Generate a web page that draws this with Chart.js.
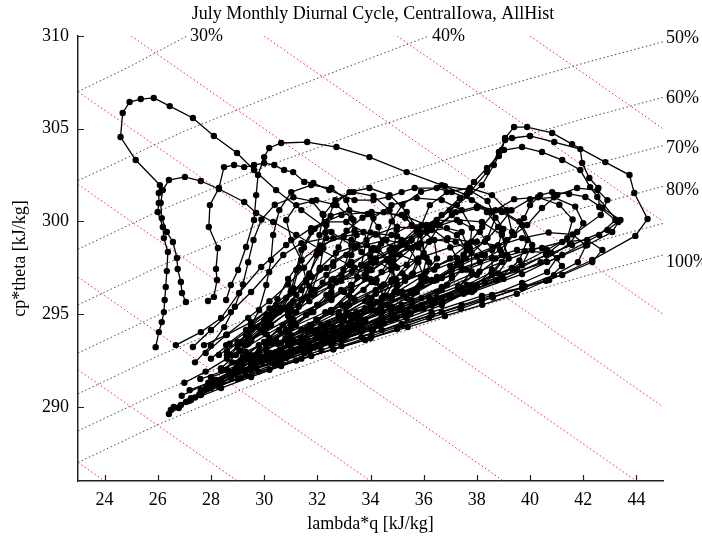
<!DOCTYPE html>
<html>
<head>
<meta charset="utf-8">
<script src="https://cdn.jsdelivr.net/npm/chart.js@4/dist/chart.umd.min.js"></script>
<style>
  html, body { margin: 0; padding: 0; background: #fff; }
  #wrap { width: 702px; height: 538px; }
</style>
</head>
<body>
<div id="wrap"><canvas id="chart"></canvas></div>
<script>
// axis ranges and tick labels
const xRange = [23, 45];
const yRange = [286, 310];
const xTicks = [24, 26, 28, 30, 32, 34, 36, 38, 40, 42, 44];
const yTicks = [290, 295, 300, 305, 310];

// red dotted lines: constant cp*theta + lambda*q (310 ... 350 kJ/kg)
const thetaELines = [
  [[23, 287], [24, 286]],
  [[23, 292], [29, 286]],
  [[23, 297], [34, 286]],
  [[23, 302], [39, 286]],
  [[23, 307], [44, 286]],
  [[25, 310], [45, 290]],
  [[30, 310], [45, 295]],
  [[35, 310], [45, 300]],
  [[40, 310], [45, 305]]
];

// black dotted relative humidity lines
const rh30 = [[23, 307.0], [25, 308.39], [27.1, 310]];
const rh40 = [[23, 302.2], [27, 304.87], [31, 307.17], [36.2, 310]];
const rh50 = [[23, 298.5], [26, 300.54], [30, 302.93], [34, 305.01], [38, 306.87], [42, 308.53], [45, 309.69]];
const rh60 = [[23, 295.5], [26, 297.54], [30, 299.93], [34, 302.01], [38, 303.87], [42, 305.53], [45, 306.69]];
const rh70 = [[23, 292.9], [26, 294.94], [30, 297.33], [34, 299.41], [38, 301.27], [42, 302.93], [45, 304.09]];
const rh80 = [[23, 290.7], [26, 292.74], [30, 295.13], [34, 297.21], [38, 299.07], [42, 300.73], [45, 301.89]];
const rh90 = [[23, 288.7], [26, 290.74], [30, 293.13], [34, 295.21], [38, 297.07], [42, 298.73], [45, 299.89]];
const rh100 = [[23, 287.0], [26, 289.04], [30, 291.43], [34, 293.51], [38, 295.37], [42, 297.03], [45, 298.19]];
const rhLines = [rh30, rh40, rh50, rh60, rh70, rh80, rh90, rh100];
const rhLabels = ["30%", "40%", "50%", "60%", "70%", "80%", "", "100%"];
const rhLabelAt = [[27.1, 310], [36.2, 310], [45, 309.9], [45, 306.65], [45, 303.95], [45, 301.7], [45, 299.9], [45, 297.8]];

// diurnal cycles [lambda*q, cp*theta]
const cycT1 = [[25.92,293.22],[26.04,294.03],[26.15,294.57],[26.23,295.11],[26.26,295.76],[26.30,296.46],[26.34,297.32],[26.38,298.35],[26.23,299.10],[26.19,299.70],[26.00,300.51],[26.04,300.99],[26.04,301.53],[26.08,301.96],[25.17,303.31],[24.60,304.55],[24.68,305.85],[24.94,306.44],[25.36,306.60],[25.85,306.66],[26.45,306.22],[27.32,305.58],[28.11,304.61],[28.98,303.69],[29.62,302.77],[30.45,301.69],[31.40,300.61],[32.53,299.43],[33.66,298.35],[34.79,297.38]];
const cycT2 = [[27.06,295.65],[26.91,296.14],[26.87,296.73],[26.75,297.43],[26.72,298.03],[26.57,298.89],[26.34,299.43],[26.15,300.18],[26.11,300.99],[26.19,301.69],[26.42,302.23],[27.02,302.40],[27.62,302.18],[28.30,301.75],[29.25,301.05],[29.70,300.45],[30.34,299.97],[31.21,299.27],[32.15,298.46],[33.21,297.65],[34.23,296.84]];
const cycT3 = [[27.89,295.71],[28.11,295.93],[28.23,296.84],[28.19,297.43],[28.26,298.57],[27.92,299.70],[27.96,300.88],[28.30,301.80],[28.49,302.93],[28.87,303.04],[29.25,302.93],[29.62,303.04],[30.00,303.15],[30.38,303.04],[30.75,302.77],[31.09,302.66],[31.51,302.13],[31.85,302.07],[32.45,301.69],[33.40,301.15],[34.11,301.15],[34.68,301.32],[35.17,301.58],[35.66,301.80],[36.49,301.80],[37.06,301.58],[37.81,301.15],[38.57,300.51],[39.00,299.60],[38.80,298.70],[38.00,298.10],[37.00,297.60]];
const cycT4 = [[28.57,295.76],[28.75,296.57],[29.02,297.38],[29.32,298.62],[29.62,300.08],[29.70,301.42],[29.77,302.50],[30.00,303.47],[30.19,303.96],[30.64,304.23],[31.62,304.28],[32.72,304.01],[33.96,303.47],[35.36,302.66],[36.68,301.96],[37.62,301.42],[38.38,300.51],[38.94,299.43],[39.13,298.19],[38.57,297.11],[37.43,296.30],[35.92,295.49],[34.42,294.79]];
const cycR1 = [[32.53,293.33],[34.42,294.14],[36.30,295.11],[38.19,295.98],[39.70,296.41],[40.72,296.84],[42.34,297.92],[43.96,299.22],[44.42,300.13],[43.92,301.53],[43.74,302.50],[42.83,303.20],[41.58,304.17],[40.83,304.77],[39.89,305.09],[39.40,305.09],[39.06,304.50],[38.94,303.85],[38.64,303.04],[38.19,301.96],[37.25,300.88],[36.30,299.81],[35.17,298.73],[34.04,297.81]];
const cycR2 = [[31.40,293.06],[33.66,294.25],[35.92,295.33],[37.81,296.19],[39.70,297.16],[41.21,298.19],[42.60,299.27],[43.21,300.08],[42.60,300.78],[42.57,301.80],[42.23,302.34],[41.96,303.15],[41.89,303.90],[40.91,304.28],[40.00,304.61],[39.32,304.50],[39.06,304.39],[38.83,303.74],[38.38,302.66],[37.74,301.58],[36.98,300.61],[36.11,299.64],[34.98,298.57],[33.85,297.59],[32.72,296.73]];
const cycR3 = [[32.15,293.60],[34.42,294.79],[36.68,295.87],[38.94,297.06],[40.64,297.81],[42.15,298.73],[43.09,299.43],[43.32,299.97],[42.53,301.32],[42.26,301.85],[41.89,302.77],[41.21,303.31],[40.45,303.74],[39.70,304.01],[39.02,303.85],[38.83,303.53],[38.38,302.88],[37.89,302.13],[37.36,301.26],[36.68,300.35],[35.74,299.43],[34.72,298.46],[33.66,297.65]];
const cycR4 = [[32.91,293.87],[35.17,295.22],[37.43,296.41],[39.70,297.65],[41.58,298.73],[42.91,299.54],[43.40,300.08],[42.72,300.72],[42.08,301.32],[41.47,301.48],[40.83,301.58],[40.38,301.42],[40.00,300.88],[39.77,300.18],[39.40,299.27],[38.87,298.46],[38.11,297.81],[37.06,297.11],[35.74,296.30],[34.42,295.49]];
const cycC0 = [[26.42,289.61],[26.79,289.94],[27.17,290.31],[27.55,290.64],[27.92,291.01],[28.38,291.45],[28.94,291.88],[29.51,292.42],[30.26,292.90],[31.10,293.50],[32.00,294.10],[33.00,294.80],[34.00,295.50],[35.00,296.20],[35.90,297.00],[36.50,298.00],[36.40,299.00],[35.80,299.60],[35.00,299.70],[34.20,299.30],[33.40,298.60],[32.60,297.80],[31.80,297.00],[31.00,296.20],[30.20,295.30],[29.50,294.40]];
const cycC1 = [[26.49,289.83],[27.06,290.26],[27.62,290.74],[28.19,291.29],[28.75,291.72],[29.51,292.25],[30.45,292.96],[31.40,293.60],[32.34,294.25],[33.28,294.95],[34.23,295.65],[34.98,296.30],[35.55,297.11],[35.74,297.92],[35.36,298.73],[34.60,299.00],[33.85,298.73],[33.09,298.19],[32.34,297.49],[31.58,296.73],[30.83,295.87],[30.08,294.95],[29.32,294.14],[28.57,293.33]];
const cycC2 = [[26.87,290.10],[27.62,290.64],[28.38,291.34],[29.32,291.98],[30.26,292.52],[31.40,293.06],[32.53,293.71],[33.66,294.41],[34.79,295.11],[35.92,295.87],[36.87,296.57],[37.43,297.38],[37.62,298.46],[37.25,299.27],[36.49,299.81],[35.55,299.81],[34.79,299.27],[34.04,298.46],[33.28,297.65],[32.53,296.84],[31.77,296.03],[31.02,295.22],[30.26,294.41],[29.51,293.60]];
const cycC3 = [[27.25,290.47],[28.00,291.01],[28.75,291.55],[29.70,292.09],[30.83,292.63],[31.96,293.33],[33.09,293.87],[34.23,294.57],[35.36,295.22],[36.49,295.87],[37.62,296.57],[38.57,297.27],[39.13,298.19],[38.94,299.27],[38.19,299.97],[37.25,300.08],[36.30,299.64],[35.55,299.00],[34.79,298.19],[34.04,297.38],[33.28,296.57],[32.53,295.76],[31.77,295.11],[31.02,294.41]];
const cycC4 = [[27.62,290.91],[28.19,291.45],[28.94,292.09],[29.70,292.79],[30.45,293.60],[31.02,294.68],[31.40,295.76],[31.58,296.84],[31.40,297.92],[31.02,299.00],[30.83,300.08],[31.21,300.88],[31.96,301.15],[32.72,300.88],[33.28,300.18],[33.47,299.27],[33.28,298.19],[32.91,297.11],[32.34,296.03],[31.58,294.95],[30.83,294.14],[30.08,293.33],[29.32,292.63]];
const cycC5 = [[28.38,291.45],[29.13,291.98],[30.08,292.52],[31.21,293.06],[32.34,293.60],[33.66,294.14],[34.98,294.79],[36.30,295.49],[37.62,296.19],[38.75,296.84],[39.70,297.65],[40.08,298.73],[39.70,299.81],[38.94,300.51],[38.00,300.72],[37.06,300.35],[36.30,299.54],[35.55,298.57],[34.79,297.65],[34.04,296.73],[33.28,295.87],[32.53,295.11],[31.77,294.41],[30.83,293.60]];
const cycC6 = [[29.51,291.98],[31.02,292.79],[32.53,293.50],[34.04,294.14],[35.36,294.79],[36.68,295.49],[37.81,296.30],[38.57,297.38],[38.57,298.46],[38.11,299.43],[37.36,299.97],[36.49,300.08],[35.74,299.64],[35.17,298.89],[34.87,297.92],[34.79,296.84],[34.42,295.87],[33.74,295.11],[32.91,294.41],[31.96,293.71],[31.02,293.06],[30.08,292.52]];
const cycC7 = [[28.00,291.18],[28.75,291.88],[29.51,292.63],[30.26,293.44],[31.02,294.25],[31.77,295.11],[32.53,295.87],[33.28,296.57],[33.85,297.38],[34.04,298.46],[33.74,299.43],[33.09,299.97],[32.34,299.97],[31.77,299.43],[31.40,298.46],[31.21,297.38],[31.02,296.30],[30.64,295.33],[30.08,294.41],[29.51,293.60],[28.94,292.79],[28.38,292.09]];
const cycC8 = [[28.75,291.72],[29.89,292.42],[31.02,293.06],[32.15,293.71],[33.28,294.41],[34.42,295.11],[35.36,295.87],[35.92,296.84],[36.11,298.03],[35.85,299.27],[35.36,300.51],[34.72,301.42],[33.96,301.80],[33.21,301.58],[32.60,300.88],[32.34,299.81],[32.23,298.57],[32.08,297.38],[31.77,296.19],[31.21,295.11],[30.57,294.14],[29.81,293.33],[29.13,292.52]];
const cycC9 = [[27.25,290.37],[28.38,291.01],[29.51,291.61],[30.64,292.20],[31.77,292.74],[32.91,293.28],[34.04,293.82],[35.17,294.41],[36.30,294.95],[37.43,295.49],[38.57,296.03],[39.70,296.68],[40.64,297.27],[41.02,298.03],[40.45,298.57],[39.51,298.46],[38.57,298.03],[37.43,297.49],[36.30,296.84],[35.17,296.19],[34.04,295.49],[32.91,294.79],[31.77,294.14],[30.64,293.44],[29.51,292.79],[28.38,291.98]];
const cycC10 = [[29.13,292.25],[30.08,293.06],[31.02,293.87],[31.96,294.68],[32.91,295.49],[33.74,296.30],[34.42,297.27],[34.87,298.35],[34.98,299.54],[34.72,300.61],[34.11,301.37],[33.36,301.58],[32.68,301.15],[32.23,300.35],[32.08,299.27],[31.96,298.19],[31.70,297.11],[31.21,296.03],[30.57,295.11],[29.89,294.14],[29.32,293.33]];
const cycC11 = [[30.64,293.06],[32.15,293.87],[33.66,294.68],[35.17,295.49],[36.68,296.30],[38.00,297.11],[38.94,298.19],[39.32,299.43],[39.13,300.61],[38.57,301.42],[37.74,301.80],[36.87,301.58],[36.23,300.88],[35.92,299.81],[35.74,298.73],[35.36,297.65],[34.79,296.73],[34.04,295.87],[33.09,295.11],[32.15,294.41],[31.40,293.71]];
const cycC12 = [[27.62,290.80],[29.13,291.55],[30.64,292.31],[32.15,293.06],[33.66,293.76],[35.17,294.47],[36.68,295.11],[38.19,295.76],[39.70,296.41],[41.21,297.11],[42.34,297.81],[42.72,298.46],[42.15,299.00],[41.21,298.89],[40.08,298.46],[38.94,297.81],[37.81,297.16],[36.68,296.46],[35.55,295.76],[34.42,295.11],[33.28,294.41],[32.15,293.76],[31.02,293.06],[29.89,292.42]];
const cycC13 = [[26.68,293.33],[27.62,294.03],[28.38,294.79],[29.06,296.14],[29.89,297.54],[30.83,298.73],[31.77,299.64],[32.91,300.35],[34.04,300.51],[35.17,300.35],[36.11,299.81],[36.87,299.00],[37.25,298.03],[37.06,296.95],[36.49,296.19],[35.55,295.49],[34.42,294.79],[33.28,294.14],[32.15,293.50],[31.02,292.96],[29.89,292.42],[28.94,291.88],[28.00,291.18]];
const cycC14 = [[27.32,293.23],[28.00,294.14],[28.75,295.11],[29.51,296.19],[30.19,297.27],[30.72,298.19],[31.40,298.83],[32.34,299.10],[33.28,299.00],[34.11,298.57],[34.72,297.81],[34.98,296.84],[34.79,295.87],[34.23,295.11],[33.47,294.41],[32.53,293.76],[31.40,293.06],[30.26,292.52],[29.32,291.98],[28.38,291.29]];
const cycC15 = [[27.74,293.33],[28.57,293.87],[29.51,294.57],[30.45,295.49],[31.40,296.30],[32.34,297.11],[33.28,297.81],[34.23,298.46],[35.17,299.00],[36.11,299.43],[36.87,299.64],[37.43,299.43],[37.62,298.73],[37.36,297.81],[36.68,296.95],[35.74,296.19],[34.60,295.49],[33.47,294.79],[32.34,294.14],[31.21,293.50],[30.08,292.79],[29.13,292.20]];
const cycC16 = [[29.89,292.52],[31.40,293.33],[33.09,294.14],[34.79,294.95],[36.30,295.76],[37.81,296.57],[39.32,297.49],[40.64,298.46],[41.77,299.43],[42.66,300.35],[42.91,301.15],[42.53,301.69],[41.77,301.80],[41.02,301.42],[40.45,300.72],[39.89,299.81],[39.13,299.00],[38.19,298.19],[37.06,297.38],[35.92,296.57],[34.79,295.87],[33.47,295.11],[32.15,294.36],[31.02,293.60]];
const cycC17 = [[31.40,294.14],[32.53,295.22],[33.28,296.30],[33.66,297.65],[33.85,299.00],[34.11,300.18],[34.79,300.88],[35.74,301.26],[36.68,301.15],[37.43,300.61],[37.81,299.64],[37.74,298.57],[37.25,297.65],[36.49,296.84],[35.55,296.14],[34.42,295.38],[33.28,294.68],[32.15,293.98]];
const cycC18 = [[28.75,292.79],[29.32,293.87],[29.81,295.22],[30.08,296.57],[30.26,297.92],[30.34,299.27],[30.57,300.61],[31.02,301.58],[31.77,301.96],[32.53,301.80],[33.09,301.15],[33.36,300.08],[33.28,298.73],[32.98,297.38],[32.53,296.19],[31.85,295.11],[31.02,294.25],[30.08,293.50],[29.32,292.96]];
const cycD1 = [[26.6,290.0],[27.4,290.5],[28.3,291.1],[29.3,291.7],[30.4,292.3],[31.5,292.9],[32.6,293.5],[33.7,294.1],[34.8,294.7],[35.9,295.3],[37.0,295.9],[38.0,296.5],[38.8,297.2],[39.2,298.0],[38.8,298.7],[38.0,298.9],[37.0,298.6],[36.0,298.1],[35.0,297.5],[34.0,296.9],[33.0,296.2],[32.0,295.5],[31.0,294.8],[30.0,294.0],[29.0,293.2]];
const cycD2 = [[28.0,291.6],[29.0,292.1],[30.0,292.7],[31.0,293.3],[32.0,294.0],[33.0,294.7],[34.0,295.4],[34.9,296.2],[35.6,297.2],[36.0,298.3],[35.9,299.4],[35.3,300.2],[34.5,300.5],[33.7,300.2],[33.1,299.5],[32.8,298.6],[32.6,297.6],[32.2,296.7],[31.6,295.9],[30.9,295.1],[30.1,294.3],[29.3,293.5]];
const cycD3 = [[29.5,292.0],[30.7,292.6],[31.9,293.2],[33.1,293.8],[34.3,294.4],[35.5,295.0],[36.7,295.6],[37.9,296.3],[38.9,297.0],[39.6,297.9],[39.9,299.0],[39.6,300.0],[38.9,300.6],[38.0,300.8],[37.2,300.5],[36.6,299.8],[36.2,298.9],[35.8,298.0],[35.2,297.2],[34.4,296.5],[33.4,295.8],[32.3,295.1],[31.2,294.4],[30.2,293.7]];
const cycD4 = [[27.0,291.3],[27.8,291.9],[28.6,292.6],[29.4,293.4],[30.1,294.3],[30.7,295.3],[31.1,296.4],[31.3,297.5],[31.5,298.6],[31.9,299.6],[32.5,300.3],[33.2,300.6],[33.9,300.4],[34.3,299.7],[34.4,298.8],[34.2,297.8],[33.8,296.9],[33.2,296.0],[32.5,295.2],[31.7,294.4],[30.8,293.7],[29.8,293.0],[28.8,292.4]];
const cycD5 = [[30.5,292.5],[31.8,293.2],[33.1,293.9],[34.4,294.6],[35.7,295.3],[37.0,296.0],[38.3,296.7],[39.5,297.4],[40.6,298.2],[41.4,299.1],[41.6,300.1],[41.1,300.9],[40.3,301.3],[39.4,301.2],[38.7,300.6],[38.2,299.7],[37.7,298.8],[37.0,298.0],[36.1,297.3],[35.0,296.6],[33.9,295.9],[32.8,295.1],[31.7,294.3]];
const cycD6 = [[28.6,292.8],[29.4,293.7],[30.0,294.7],[30.5,295.8],[30.9,296.9],[31.4,297.9],[32.1,298.7],[33.0,299.2],[34.0,299.4],[35.0,299.2],[35.8,298.6],[36.2,297.8],[36.1,296.9],[35.6,296.1],[34.8,295.4],[33.8,294.7],[32.7,294.0],[31.6,293.4],[30.5,292.9],[29.5,292.4]];
const cycD7 = [[27.8,291.0],[29.0,291.5],[30.2,292.0],[31.4,292.6],[32.6,293.1],[33.8,293.6],[35.0,294.2],[36.2,294.8],[37.4,295.3],[38.6,295.9],[39.8,296.5],[40.9,297.1],[41.8,297.8],[42.1,298.7],[41.6,299.3],[40.7,299.4],[39.7,299.1],[38.6,298.6],[37.5,298.0],[36.4,297.4],[35.3,296.8],[34.2,296.1],[33.1,295.4],[32.0,294.7],[30.9,294.0],[29.8,293.3]];
const cycD8 = [[31.0,293.8],[32.4,294.5],[33.8,295.3],[35.2,296.1],[36.5,297.0],[37.6,298.0],[38.4,299.1],[38.7,300.2],[38.4,301.1],[37.7,301.7],[36.8,301.9],[35.9,301.6],[35.2,300.9],[34.8,300.0],[34.5,299.0],[34.0,298.1],[33.3,297.3],[32.5,296.5],[31.7,295.7],[30.9,294.9]];
const cycD9 = [[27.4,292.4],[28.0,293.3],[28.5,294.3],[28.9,295.4],[29.2,296.6],[29.4,297.8],[29.6,299.0],[29.9,300.1],[30.4,300.9],[31.1,301.3],[31.8,301.1],[32.2,300.4],[32.3,299.4],[32.1,298.3],[31.7,297.2],[31.1,296.2],[30.4,295.2],[29.7,294.3],[29.0,293.5],[28.3,292.8]];
const cycD10 = [[26.9,290.6],[27.9,291.3],[28.9,292.0],[29.9,292.7],[30.9,293.4],[31.9,294.1],[32.9,294.9],[33.8,295.7],[34.5,296.6],[34.9,297.6],[34.8,298.6],[34.2,299.3],[33.4,299.5],[32.6,299.1],[32.0,298.4],[31.5,297.5],[30.9,296.6],[30.2,295.7],[29.4,294.8],[28.6,293.9],[27.8,292.9]];
const cycD11 = [[33.0,293.7],[34.5,294.5],[36.0,295.3],[37.5,296.1],[39.0,296.9],[40.4,297.8],[41.5,298.8],[42.0,299.9],[41.7,300.8],[40.9,301.3],[40.0,301.2],[39.3,300.6],[38.8,299.7],[38.3,298.9],[37.5,298.2],[36.5,297.6],[35.3,297.0],[34.2,296.3],[33.2,295.5]];
const cycD12 = [[28.2,291.4],[29.3,291.9],[30.5,292.4],[31.7,293.0],[32.9,293.6],[34.1,294.2],[35.3,294.9],[36.4,295.6],[37.3,296.4],[37.8,297.3],[37.8,298.3],[37.2,298.9],[36.3,299.0],[35.4,298.6],[34.6,297.9],[33.8,297.1],[32.9,296.3],[32.0,295.5],[31.1,294.7],[30.1,293.9],[29.1,293.0]];
const cycE1 = [[27.2,290.9],[28.1,291.4],[29.0,291.9],[29.9,292.4],[30.8,292.9],[31.7,293.4],[32.6,293.9],[33.5,294.5],[34.2,295.2],[34.5,296.0],[34.2,296.7],[33.5,297.0],[32.7,296.8],[31.9,296.3],[31.1,295.7],[30.3,295.0],[29.5,294.2],[28.7,293.4],[28.0,292.6]];
const cycE2 = [[27.6,291.5],[28.6,292.0],[29.6,292.6],[30.6,293.1],[31.6,293.7],[32.6,294.3],[33.6,294.9],[34.6,295.5],[35.5,296.2],[36.0,297.0],[35.8,297.8],[35.1,298.2],[34.2,298.0],[33.4,297.5],[32.6,296.9],[31.8,296.2],[31.0,295.5],[30.2,294.7],[29.4,293.9],[28.6,293.0]];
const cycE3 = [[29.0,292.3],[30.2,292.9],[31.4,293.5],[32.6,294.1],[33.8,294.7],[35.0,295.3],[36.2,295.9],[37.3,296.5],[38.1,297.3],[38.3,298.2],[37.8,298.9],[36.9,299.1],[35.9,298.8],[34.9,298.2],[33.9,297.5],[32.9,296.8],[31.9,296.1],[30.9,295.3],[30.0,294.4],[29.2,293.4]];
const cycE4 = [[28.4,292.0],[29.2,292.7],[30.0,293.5],[30.7,294.4],[31.3,295.4],[31.7,296.5],[32.1,297.5],[32.7,298.3],[33.5,298.7],[34.3,298.5],[34.8,297.8],[34.9,296.9],[34.6,296.0],[34.0,295.2],[33.2,294.5],[32.3,293.9],[31.4,293.3],[30.5,292.8],[29.6,292.4]];
const cycE5 = [[29.8,291.9],[31.2,292.5],[32.6,293.1],[34.0,293.7],[35.4,294.3],[36.8,294.9],[38.2,295.5],[39.5,296.1],[40.6,296.8],[41.2,297.6],[40.8,298.3],[39.8,298.4],[38.7,298.0],[37.6,297.4],[36.4,296.8],[35.2,296.2],[34.0,295.6],[32.8,294.9],[31.6,294.2],[30.5,293.4]];

const cycles = [cycT1, cycT2, cycT3, cycT4, cycR1, cycR2, cycR3, cycR4, cycC0, cycC1, cycC2, cycC3, cycC4,
  cycC5, cycC6, cycC7, cycC8, cycC9, cycC10, cycC11, cycC12, cycC13, cycC14, cycC15, cycC16, cycC17, cycC18,
  cycD1, cycD2, cycD3, cycD4, cycD5, cycD6, cycD7, cycD8, cycD9, cycD10, cycD11, cycD12,
  cycE1, cycE2, cycE3, cycE4, cycE5];

const FONT = "'Liberation Serif', 'DejaVu Serif', serif";
const toXY = arr => arr.map(p => ({ x: p[0], y: p[1] }));

const datasets = [];
cycles.forEach(c => {
  datasets.push({
    data: toXY(c),
    showLine: true,
    borderColor: "#000",
    borderWidth: 1.3,
    pointRadius: 3.2,
    pointBackgroundColor: "#000",
    pointBorderWidth: 0,
    order: 0
  });
});
thetaELines.forEach(l => {
  datasets.push({
    data: toXY(l),
    showLine: true,
    borderColor: "rgba(255, 0, 0, 0.85)",
    borderWidth: 1,
    borderDash: [1.5, 2.5],
    pointRadius: 0,
    order: 10
  });
});
rhLines.forEach(l => {
  datasets.push({
    data: toXY(l),
    showLine: true,
    borderColor: "rgba(40, 40, 40, 0.85)",
    borderWidth: 1,
    borderDash: [1.5, 2.5],
    pointRadius: 0,
    order: 10
  });
});

// text, inward ticks and RH labels
const decor = {
  id: "decor",
  afterDraw(chart) {
    const { ctx, scales: { x, y } } = chart;
    ctx.save();
    ctx.strokeStyle = "#222";
    ctx.lineWidth = 1.2;
    ctx.beginPath();
    xTicks.forEach(v => {
      const px = Math.round(x.getPixelForValue(v)) + 0.5;
      ctx.moveTo(px, y.bottom);
      ctx.lineTo(px, y.bottom - 6);
    });
    yTicks.forEach(v => {
      const py = Math.round(y.getPixelForValue(v)) + 0.5;
      ctx.moveTo(x.left, py);
      ctx.lineTo(x.left + 6, py);
    });
    ctx.stroke();

    ctx.fillStyle = "#000";
    ctx.font = "18px " + FONT;
    ctx.textBaseline = "middle";
    ctx.textAlign = "center";
    xTicks.forEach(v => ctx.fillText(String(v), x.getPixelForValue(v), 500));
    ctx.textAlign = "right";
    yTicks.forEach(v => ctx.fillText(String(v), 69, y.getPixelForValue(v)));

    ctx.textAlign = "left";
    rhLabels.forEach((t, i) => {
      if (!t) return;
      const p = rhLabelAt[i];
      ctx.fillText(t, x.getPixelForValue(p[0]) + 3, y.getPixelForValue(p[1]));
    });

    ctx.textAlign = "center";
    ctx.fillText("July Monthly Diurnal Cycle, CentralIowa, AllHist", 373, 14);
    ctx.fillText("lambda*q [kJ/kg]", (x.left + x.right) / 2, 524);
    ctx.translate(20, (y.top + y.bottom) / 2);
    ctx.rotate(-Math.PI / 2);
    ctx.fillText("cp*theta [kJ/kg]", 0, 0);
    ctx.restore();
  }
};

new Chart(document.getElementById("chart"), {
  type: "scatter",
  data: { datasets },
  options: {
    animation: false,
    responsive: true,
    maintainAspectRatio: false,
    events: [],
    layout: { padding: { top: 36, right: 39, bottom: 0, left: 0 } },
    plugins: { legend: { display: false }, tooltip: { enabled: false } },
    scales: {
      x: {
        type: "linear",
        min: xRange[0],
        max: xRange[1],
        grid: { display: false },
        border: { display: true, color: "#222", width: 1.5 },
        ticks: { display: false },
        afterFit: s => { s.height = 57; }
      },
      y: {
        type: "linear",
        min: yRange[0],
        max: yRange[1],
        grid: { display: false },
        border: { display: true, color: "#222", width: 1.5 },
        ticks: { display: false },
        afterFit: s => { s.width = 78; }
      }
    }
  },
  plugins: [decor]
});
</script>
</body>
</html>
